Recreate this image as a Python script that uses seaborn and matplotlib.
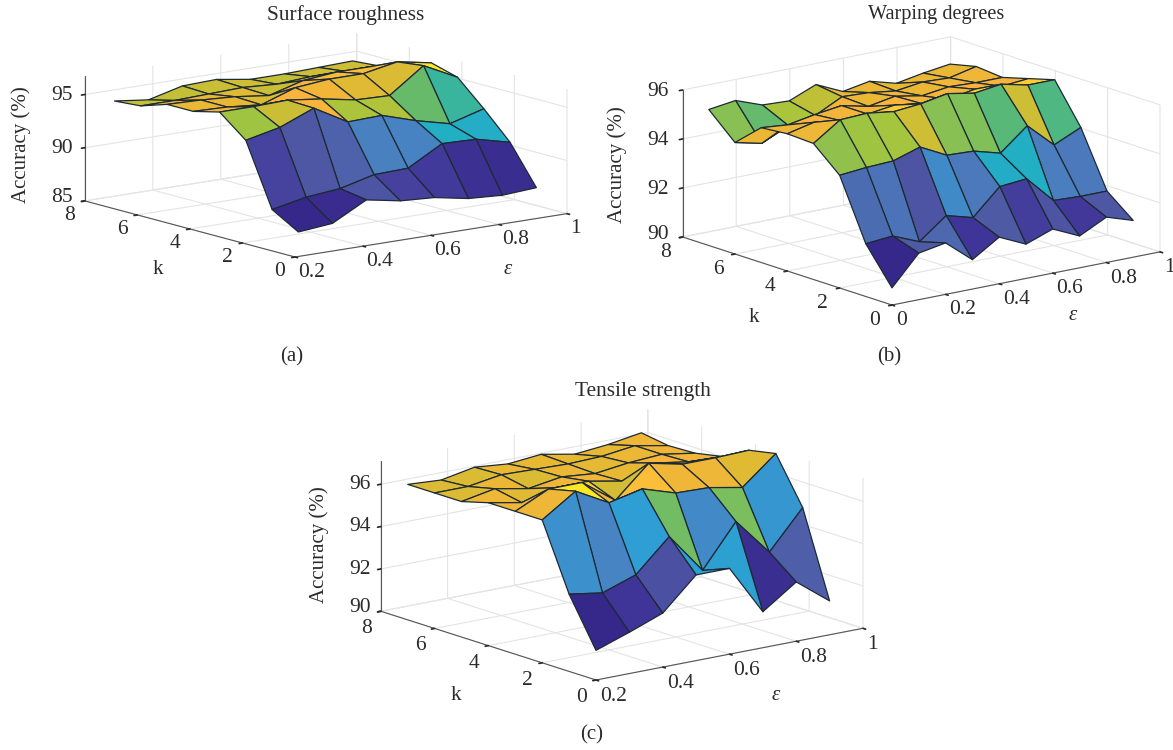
import numpy as np
import matplotlib
matplotlib.use("Agg")
import matplotlib.pyplot as plt
from matplotlib.transforms import Affine2D
import seaborn as sns
from mpl_toolkits.mplot3d import Axes3D, proj3d

# ---------- data ----------
eps_a = [0.21, 0.31, 0.41, 0.51, 0.61, 0.71, 0.81, 0.91]
eps_b = [0.0, 0.1, 0.2, 0.3, 0.4, 0.5, 0.6, 0.7, 0.8, 0.9]
eps_c = [0.2, 0.3, 0.4, 0.5, 0.6, 0.7, 0.8, 0.9]
k_vals = [0, 1, 2, 3, 4, 5, 6, 7]

surface_roughness = [
    [87.3, 87.6, 89.3, 88.7, 88.5, 87.9, 87.7, 87.9],
    [88.75, 89.4, 89.7, 90.5, 90.6, 92.4, 92.3, 91.5],
    [94.6, 95.3, 96.6, 94.8, 94.9, 93.9, 93.1, 94.0],
    [96.6, 96.6, 96.7, 96.3, 95.7, 95.6, 97.9, 96.3],
    [96.0, 95.9, 95.6, 96.7, 97.0, 97.0, 97.6, 97.0],
    [96.0, 95.9, 95.7, 95.3, 96.2, 96.5, 96.5, 96.0],
    [95.2, 95.2, 95.3, 95.4, 95.2, 95.4, 95.4, 95.4],
    [95.0, 94.6, 95.4, 95.5, 95.0, 95.0, 95.1, 95.2],
]
warping_degrees = [
    [90.7, 91.9, 92.1, 91.2, 91.9, 91.4, 91.8, 91.3, 91.85, 91.5],
    [92.15, 92.25, 91.8, 92.65, 92.35, 93.4, 93.5, 92.4, 92.35, 92.35],
    [94.6, 94.7, 94.75, 95.1, 94.55, 94.5, 94.2, 95.1, 94.1, 94.6],
    [95.55, 96.3, 96.35, 96.2, 96.3, 96.5, 96.3, 96.45, 96.2, 96.2],
    [95.6, 95.85, 95.7, 95.75, 95.9, 95.75, 95.7, 95.9, 95.8, 95.9],
    [95.5, 95.4, 95.6, 95.75, 95.5, 95.7, 95.5, 95.65, 95.6, 95.6],
    [94.55, 94.3, 94.8, 95.0, 95.55, 95.5, 95.35, 95.5, 95.45, 95.7],
    [95.55, 95.7, 95.3, 95.25, 95.7, 95.2, 95.4, 95.1, 95.3, 95.45],
]
tensile_strength = [
    [91.4, 91.95, 92.55, 94.05, 94.05, 91.7, 92.8, 91.6],
    [93.65, 93.4, 93.95, 95.45, 93.55, 95.55, 93.8, 95.6],
    [96.75, 97.8, 96.95, 97.3, 96.8, 96.75, 96.45, 97.75],
    [96.75, 97.5, 97.5, 96.35, 97.8, 97.45, 97.45, 97.5],
    [96.75, 96.45, 96.85, 96.85, 96.55, 97.1, 96.85, 96.8],
    [96.4, 96.7, 96.4, 96.65, 96.5, 96.7, 96.8, 96.55],
    [96.4, 96.4, 96.65, 96.6, 96.55, 96.6, 96.8, 96.5],
    [96.4, 96.3, 96.6, 96.45, 96.6, 96.3, 96.45, 96.7],
]

titles = ["Surface roughness", "Warping degrees", "Tensile strength"]
captions = ["(a)", "(b)", "(c)"]
eps_ticks = [[0.2, 0.4, 0.6, 0.8, 1.0], [0, 0.2, 0.4, 0.6, 0.8, 1.0], [0.2, 0.4, 0.6, 0.8, 1.0]]
eps_ticklabels = [["0.2", "0.4", "0.6", "0.8", "1"], ["0", "0.2", "0.4", "0.6", "0.8", "1"],
                  ["0.2", "0.4", "0.6", "0.8", "1"]]
k_ticks = [0, 2, 4, 6, 8]
z_ticks = [[85, 90, 95], [90, 92, 94, 96], [90, 92, 94, 96]]

# ---------- style ----------
sns.set_theme(style="white", font="Liberation Serif")
plt.rcParams["font.family"] = ["Liberation Serif", "DejaVu Serif"]
TXT = "#2b2b2b"
parula_print = sns.blend_palette(
    ["#36288a", "#41379a", "#4f58a4", "#4a80c0", "#2f9ed4", "#1fb3bf",
     "#55b77a", "#a6c53c", "#e6b932", "#fbb33e", "#fde725"],
    n_colors=256, as_cmap=True)

W, H = 1173, 750
fig = plt.figure(figsize=(W / 100, H / 100), dpi=100, facecolor="white")

panels = [
    dict(eps=eps_a, Z=surface_roughness, xlim=(0.2, 1), zlim=(85, 96.7), elev=11.9, azim=-127.7,
         aspect=(1, 1, 0.37), origin=(295, 257), span=272,
         off_x=(-11, -6), off_y=(8, -6), off_z=(20, -8),
         title=(346, 15), cap=(292, 357), klab=(158, 270), elab=(508, 270), zlab=(21, 145)),
    dict(eps=eps_b, Z=warping_degrees, xlim=(0, 1), zlim=(90, 96), elev=14.7, azim=-128,
         aspect=(1, 1, 0.447), origin=(892, 305), span=268,
         off_x=(-10, -8), off_y=(6, -7), off_z=(17, -7),
         title=(936, 15), cap=(889, 357), klab=(754, 317), elab=(1073, 316), zlab=(617, 165)),
    dict(eps=eps_c, Z=tensile_strength, xlim=(0.2, 1), zlim=(90, 97.1), elev=14.4, azim=-127.9,
         aspect=(0.966, 1, 0.443), origin=(596, 680), span=267,
         off_x=(-10, -7), off_y=(8, -5), off_z=(21, -8),
         title=(643, 392), cap=(592, 735), klab=(456, 695), elab=(776, 695), zlab=(319, 545)),
]


def pix(ax, x, y, z):
    x2, y2, _ = proj3d.proj_transform(x, y, z, ax.get_proj())
    return ax.transData.transform((x2, y2))


def nudge_labels(ax, axis, off, first_extra=0):
    """mplot3d resets the tick transforms while drawing; keep a pixel nudge on the labels."""
    original = axis.get_major_ticks

    def patched(numticks=None):
        ticks = original(numticks)
        for i, t in enumerate(ticks):
            extra = first_extra if i == 0 else 0
            t.label1.set_transform(ax.transData + Affine2D().translate(off[0], -off[1] + extra))
        return ticks

    axis.get_major_ticks = patched


for n, p in enumerate(panels):
    ax = fig.add_axes([0.1, 0.1, 0.5, 0.5 * W / H], projection="3d", proj_type="ortho")
    ax.set_xlim(*p["xlim"], view_margin=0)
    ax.set_ylim(0, 8, view_margin=0)
    ax.set_zlim(*p["zlim"], view_margin=0)
    ax.view_init(elev=p["elev"], azim=p["azim"])
    ax.set_box_aspect(p["aspect"])
    ax.patch.set_alpha(0)

    # fit the axes box so the floor lands where the reference has it
    S = 500.0
    L, B = 100.0, 100.0
    for _ in range(4):
        ax.set_position([L / W, B / H, S / W, S / H])
        ax.apply_aspect()
        a = pix(ax, p["xlim"][0], 0, p["zlim"][0])
        b = pix(ax, p["xlim"][1], 0, p["zlim"][0])
        S *= p["span"] / (b[0] - a[0])
        ax.set_position([L / W, B / H, S / W, S / H])
        ax.apply_aspect()
        a = pix(ax, p["xlim"][0], 0, p["zlim"][0])
        L += p["origin"][0] - a[0]
        B += (H - p["origin"][1]) - a[1]
    ax.set_position([L / W, B / H, S / W, S / H])

    X, Y = np.meshgrid(p["eps"], k_vals)
    Z = np.array(p["Z"], dtype=float)
    norm = plt.Normalize(Z.min(), Z.max())
    ax.plot_surface(X, Y, Z, facecolors=parula_print(norm(Z)), rstride=1, cstride=1,
                    shade=False, edgecolor="#1d2a33", linewidth=0.9, antialiased=True)
    ax.set_xlim(*p["xlim"], view_margin=0)
    ax.set_ylim(0, 8, view_margin=0)
    ax.set_zlim(*p["zlim"], view_margin=0)

    ax.set_xticks(eps_ticks[n], eps_ticklabels[n])
    ax.set_yticks(k_ticks, [str(v) for v in k_ticks])
    ax.set_zticks(z_ticks[n], [str(v) for v in z_ticks[n]])
    ax.tick_params(axis="both", labelsize=15.5, colors=TXT, pad=4)
    ax.tick_params(axis="z", labelsize=15.5, colors=TXT, pad=4)
    for axis in (ax.xaxis, ax.yaxis, ax.zaxis):
        axis.set_pane_color((1, 1, 1, 0))
        axis.pane.set_edgecolor((1, 1, 1, 0))
        axis.line.set_color("#555555")
        axis.line.set_linewidth(0.8)
        axis._axinfo["grid"].update(color="#e4e4e4", linewidth=0.8)
        axis._axinfo["tick"].update(inward_factor=0.15, outward_factor=0.0, color="#555555")
    ax.grid(True)

    for lab in ax.xaxis.get_ticklabels():
        lab.set_ha("left")
    for lab in ax.yaxis.get_ticklabels():
        lab.set_ha("right")
    for lab in ax.zaxis.get_ticklabels():
        lab.set_ha("right")
    nudge_labels(ax, ax.xaxis, p["off_x"])
    nudge_labels(ax, ax.yaxis, p["off_y"])
    nudge_labels(ax, ax.zaxis, p["off_z"], first_extra=4)

    title_size = 14.6 if n == 1 else 15.4
    fig.text(p["title"][0] / W, 1 - p["title"][1] / H, titles[n], ha="center", va="center",
             fontsize=title_size, color=TXT)
    fig.text(p["cap"][0] / W, 1 - p["cap"][1] / H, captions[n], ha="center", va="center",
             fontsize=15, color=TXT)
    fig.text(p["klab"][0] / W, 1 - p["klab"][1] / H, "k", ha="center", va="center",
             fontsize=15, color=TXT)
    fig.text(p["elab"][0] / W, 1 - p["elab"][1] / H, "ε", ha="center", va="center",
             fontsize=15, color=TXT, style="italic")
    fig.text(p["zlab"][0] / W, 1 - p["zlab"][1] / H, "Accuracy (%)", ha="center", va="center",
             rotation=90, fontsize=15, color=TXT)

fig.savefig("out.png", dpi=100, facecolor="white")
